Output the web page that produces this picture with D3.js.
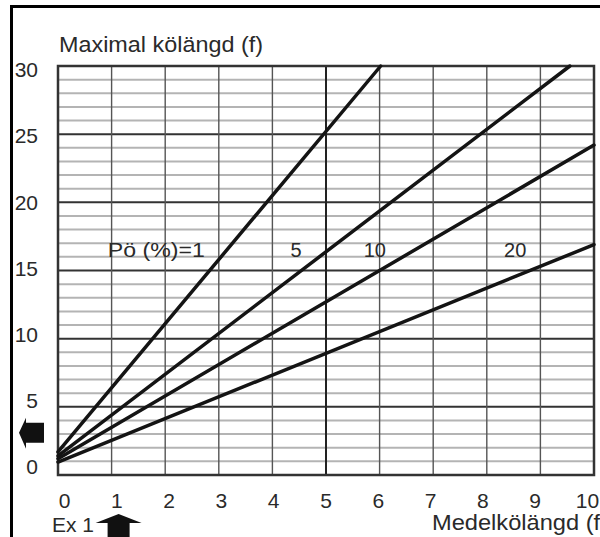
<!DOCTYPE html>
<html>
<head>
<meta charset="utf-8">
<script src="https://cdn.jsdelivr.net/npm/d3@7"></script>
<style>
  body { margin: 0; background: #fff; }
  text { font-family: Arial, "Liberation Sans", sans-serif; fill: #2a2a2a; }
</style>
</head>
<body>
<div id="chart"></div>
<script>
// data
var xTicks = [0, 1, 2, 3, 4, 5, 6, 7, 8, 9, 10]
var yTicks = [0, 5, 10, 15, 20, 25, 30]
var yGrid = d3.range(1, 30)          // one line per unit
var xGrid = [1, 2, 3, 4, 5, 6, 7, 8, 9]
var lineNames = ["1", "5", "10", "20"]
var lineStart = [[0, 1.7], [0, 1.4], [0, 1.2], [0, 0.95]]
var lineEnd = [[6.02, 30], [9.55, 30], [10, 24.2], [10, 16.9]]
var labelText = ["Pö (%)=1", "5", "10", "20"]
var labelPos = [[2.74, 16.0], [4.44, 16.0], [5.91, 16.0], [8.53, 16.0]]

var width = 600, height = 537
var margin = {top: 66, right: 6, bottom: 62, left: 58}

var svg = d3.select("#chart").append("svg")
  .attr("width", width)
  .attr("height", height)

// outer frame (cut by the picture on right and bottom)
svg.append("rect")
  .attr("x", 11.5).attr("y", 6.5)
  .attr("width", 700).attr("height", 700)
  .attr("fill", "none").attr("stroke", "#000").attr("stroke-width", 3)

var x = d3.scaleLinear().domain([0, 10]).range([margin.left, width - margin.right])
var y = d3.scaleLinear().domain([0, 30]).range([height - margin.bottom, margin.top])
// the printed labels sit a little off the grid lines
var xLab = d3.scaleLinear().domain([0, 10]).range([64, 587])
var yLab = d3.scaleLinear().domain([0, 30]).range([467, 70])

// horizontal grid
svg.append("g").selectAll("line")
  .data(yGrid)
  .enter().append("line")
  .attr("x1", x(0)).attr("x2", x(10))
  .attr("y1", function(d){ return y(d) })
  .attr("y2", function(d){ return y(d) })
  .attr("stroke", function(d){ return d % 5 == 0 ? "#333" : "#b4b4b4" })
  .attr("stroke-width", 2)

// vertical grid
svg.append("g").selectAll("line")
  .data(xGrid)
  .enter().append("line")
  .attr("y1", y(0)).attr("y2", y(30))
  .attr("x1", function(d){ return x(d) })
  .attr("x2", function(d){ return x(d) })
  .attr("stroke", function(d){ return d == 5 ? "#222" : "#555" })
  .attr("stroke-width", function(d){ return d == 5 ? 2 : 1.4 })

// plot border
svg.append("rect")
  .attr("x", x(0)).attr("y", y(30))
  .attr("width", x(10) - x(0)).attr("height", y(0) - y(30))
  .attr("fill", "none").attr("stroke", "#333").attr("stroke-width", 2.5)

// the four lines
svg.append("g").selectAll("line")
  .data(lineNames)
  .enter().append("line")
  .attr("x1", function(d, i){ return x(lineStart[i][0]) })
  .attr("y1", function(d, i){ return y(lineStart[i][1]) })
  .attr("x2", function(d, i){ return x(lineEnd[i][0]) })
  .attr("y2", function(d, i){ return y(lineEnd[i][1]) })
  .attr("stroke", "#141414")
  .attr("stroke-width", 3.5)
  .attr("stroke-linecap", "round")

// labels of the lines
svg.append("g").selectAll("text")
  .data(labelText)
  .enter().append("text")
  .attr("x", function(d, i){ return x(labelPos[i][0]) })
  .attr("y", function(d, i){ return y(labelPos[i][1]) })
  .attr("text-anchor", function(d, i){ return i == 0 ? "end" : "middle" })
  .attr("font-size", 20)
  .attr("textLength", function(d, i){ return i == 0 ? 97 : null })
  .attr("lengthAdjust", "spacingAndGlyphs")
  .text(function(d){ return d })

// axes, only the numbers
var yAxis = svg.append("g")
  .attr("transform", "translate(38,0)")
  .call(d3.axisLeft(yLab).tickValues(yTicks).tickSize(0).tickPadding(0))
var xAxis = svg.append("g")
  .attr("transform", "translate(0,493)")
  .call(d3.axisBottom(xLab).tickValues(xTicks).tickSize(0).tickPadding(0))
svg.selectAll(".domain").remove()
svg.selectAll(".tick text")
  .attr("font-size", 21)
  .attr("font-family", "Arial, 'Liberation Sans', sans-serif")
  .attr("fill", "#2a2a2a")

// titles
svg.append("text").attr("x", 59).attr("y", 52).attr("font-size", 22)
  .attr("textLength", 204).attr("lengthAdjust", "spacingAndGlyphs")
  .text("Maximal kölängd (f)")
svg.append("text").attr("x", 432).attr("y", 530).attr("font-size", 22)
  .attr("textLength", 176).attr("lengthAdjust", "spacingAndGlyphs")
  .text("Medelkölängd (f)")
svg.append("text").attr("x", 52).attr("y", 532).attr("font-size", 21)
  .text("Ex 1")

// arrows
var ax = x(1) + 7
svg.append("path")
  .attr("d", "M" + (ax - 23) + ",523 L" + ax + ",514 L" + (ax + 23) + ",523 L" + (ax + 11) + ",523 L" + (ax + 11) + ",540 L" + (ax - 11) + ",540 L" + (ax - 11) + ",523 Z")
  .attr("fill", "#111")
var ay = y(3.1)
svg.append("path")
  .attr("d", "M19," + ay + " L26," + (ay - 15) + " L26," + (ay - 10) + " L44," + (ay - 10) + " L44," + (ay + 10) + " L26," + (ay + 10) + " L26," + (ay + 16) + " Z")
  .attr("fill", "#111")
</script>
</body>
</html>
